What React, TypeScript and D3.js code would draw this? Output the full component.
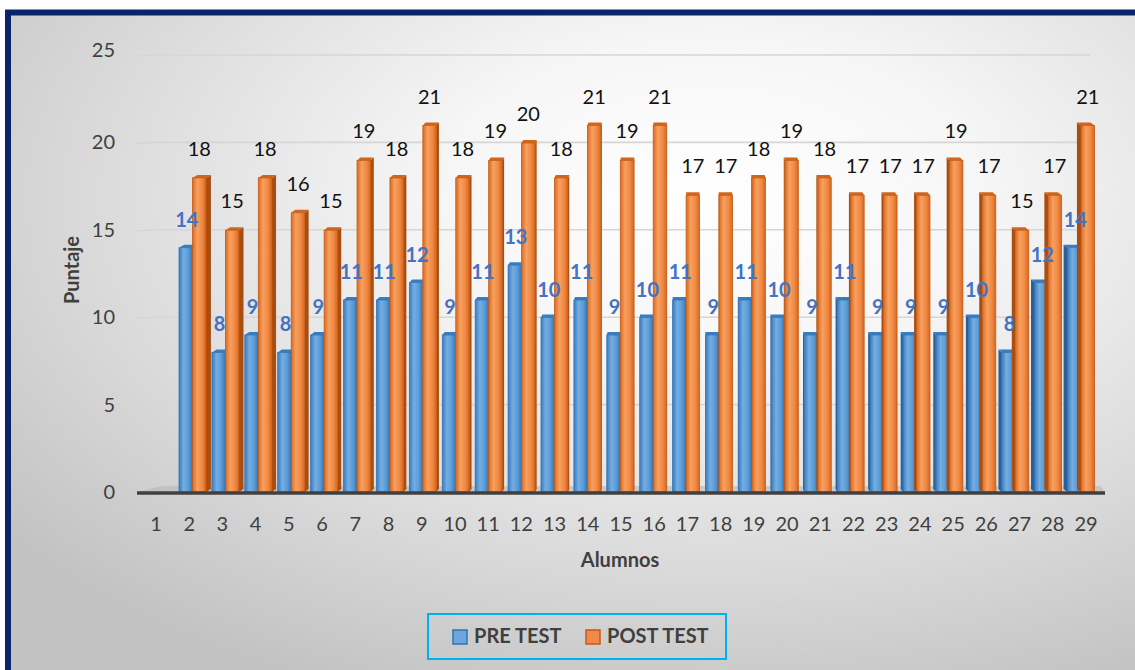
import * as d3 from 'd3';

const W = 1135;
const H = 670;

const categories = d3.range(1, 30);
// category 1 has no scores in the original chart
const preTest: (number | null)[] = [null, 14, 8, 9, 8, 9, 11, 11, 12, 9, 11, 13, 10, 11, 9, 10, 11, 9, 11, 10, 9, 11, 9, 9, 9, 10, 8, 12, 14];
const postTest: (number | null)[] = [null, 18, 15, 18, 16, 15, 19, 18, 21, 18, 19, 20, 18, 21, 19, 21, 17, 17, 18, 19, 18, 17, 17, 17, 19, 17, 15, 17, 21];
const yTicks = [0, 5, 10, 15, 20, 25];
const seriesNames = ['PRE TEST', 'POST TEST'];

const FONT = 'Lato, "Open Sans", sans-serif';
const TEXT = '#404040';
const BASE = 492;
const BAR_W = 13.5;

// axis labels sit on the back wall, bars on the (slightly wider) front plane
const xAxis = d3.scalePoint<number>().domain(categories).range([156, 1086]);
const xBar = d3.scalePoint<number>().domain(categories).range([159.6, 1081]);
const yWall = d3.scaleLinear().domain([0, 25]).range([BASE, 55]);
const yBar = d3.scaleLinear().domain([0, 25]).range([BASE, BASE - 25 * 17.45]);

const sideOf = (x: number) => (686 - x) * 0.0101;

type BarStyle = { grad: string; side: string; cap: string; stroke: string };
const blueStyle: BarStyle = { grad: 'url(#gBlue)', side: '#2b5f95', cap: '#3a7cc0', stroke: '#2e75b6' };
const orangeStyle: BarStyle = { grad: 'url(#gOrange)', side: '#a94d10', cap: '#d0651c', stroke: '#c55a11' };

function Bar3D({ x0, value, style }: { x0: number; value: number; style: BarStyle }) {
  const x1 = x0 + BAR_W;
  const y = yBar(value);
  const s = sideOf(x0 + BAR_W / 2);
  const d = 3;
  const edge = s >= 0 ? x1 : x0;
  return (
    <g>
      <path
        d={`M${edge},${y}L${edge + s},${y - d}L${edge + s},${BASE - d}L${edge},${BASE}Z`}
        fill={style.side}
      />
      <path d={`M${x0},${y}L${x0 + s},${y - d}L${x1 + s},${y - d}L${x1},${y}Z`} fill={style.cap} />
      <rect x={x0} y={y} width={BAR_W} height={BASE - y} fill={style.grad} stroke={style.stroke} strokeWidth={0.8} />
    </g>
  );
}

export default function App() {
  return (
    <svg
      width={W}
      height={H}
      style={{ position: 'absolute', left: 0, top: 0, display: 'block' }}
      fontFamily={FONT}
    >
      <defs>
        <radialGradient id="bg" cx="62%" cy="28%" r="80%">
          <stop offset="0%" stopColor="#ffffff" />
          <stop offset="30%" stopColor="#f6f6f6" />
          <stop offset="70%" stopColor="#d9d9d9" />
          <stop offset="100%" stopColor="#c2c2c2" />
        </radialGradient>
        <linearGradient id="gBlue" x1="0" x2="1" y1="0" y2="0">
          <stop offset="0%" stopColor="#3b7bbf" />
          <stop offset="35%" stopColor="#74aee2" />
          <stop offset="70%" stopColor="#5b9bd5" />
          <stop offset="100%" stopColor="#3574b4" />
        </linearGradient>
        <linearGradient id="gOrange" x1="0" x2="1" y1="0" y2="0">
          <stop offset="0%" stopColor="#dc6a20" />
          <stop offset="35%" stopColor="#f7a060" />
          <stop offset="70%" stopColor="#f08a44" />
          <stop offset="100%" stopColor="#d86620" />
        </linearGradient>
      </defs>

      <rect x={0} y={0} width={W} height={H} fill="#ffffff" />
      <rect x={8} y={12.5} width={W} height={H} fill="url(#bg)" stroke="#0b2468" strokeWidth={6} />

      {/* gridlines on the back wall */}
      {yTicks.slice(1).map((t) => {
        const y = yWall(t);
        return (
          <path
            key={t}
            d={`M137,${y + 1}L155,${y}L1090,${y}`}
            fill="none"
            stroke="#d6d6d6"
            strokeWidth={1.6}
          />
        );
      })}
      {yTicks.map((t) => (
        <text
          key={t}
          x={115}
          y={yWall(t) - (t === 25 ? 5 : 0)}
          dy="0.35em"
          textAnchor="end"
          fontSize={20}
          fill={TEXT}
        >
          {t}
        </text>
      ))}

      {/* floor */}
      <path d={`M137,${BASE}L162,${BASE - 6}L1100,${BASE - 6}L1105,${BASE}Z`} fill="#b8b8b8" opacity={0.6} />

      {categories.map((c, i) => {
        const pre = preTest[i];
        const post = postTest[i];
        const cx = xBar(c)!;
        return (
          <g key={c}>
            {pre != null && <Bar3D x0={cx - BAR_W} value={pre} style={blueStyle} />}
            {post != null && <Bar3D x0={cx} value={post} style={orangeStyle} />}
          </g>
        );
      })}

      <line x1={137} x2={1105} y1={BASE + 1} y2={BASE + 1} stroke="#404040" strokeWidth={3.5} />

      {/* data labels */}
      {categories.map((c, i) => {
        const pre = preTest[i];
        const post = postTest[i];
        const cx = xBar(c)!;
        const bx = cx - BAR_W / 2 + 1;
        const ox = cx + BAR_W / 2;
        return (
          <g key={c} fontSize={20}>
            {pre != null && (
              <text x={bx} y={yBar(pre) - 21} textAnchor="middle" fontWeight="bold" fill="#4472c4">
                {pre}
              </text>
            )}
            {post != null && (
              <text x={ox} y={yBar(post) - 22} textAnchor="middle" fill="#111111">
                {post}
              </text>
            )}
          </g>
        );
      })}

      {categories.map((c) => (
        <text key={c} x={xAxis(c)} y={524} dy="0.35em" textAnchor="middle" fontSize={20} fill={TEXT}>
          {c}
        </text>
      ))}

      <text x={620} y={560} dy="0.35em" textAnchor="middle" fontSize={20} fontWeight="bold" fill={TEXT}>
        Alumnos
      </text>
      <text
        transform="translate(72,270) rotate(-90)"
        dy="0.35em"
        textAnchor="middle"
        fontSize={20}
        fontWeight="bold"
        fill={TEXT}
      >
        Puntaje
      </text>

      {/* legend */}
      <rect x={428} y={614} width={298} height={45} fill="none" stroke="#00b0f0" strokeWidth={2} />
      {seriesNames.map((name, i) => {
        const lx = i === 0 ? 453 : 586;
        return (
          <g key={name}>
            <rect
              x={lx}
              y={630}
              width={14}
              height={14}
              fill={i === 0 ? '#6fa5dc' : '#f08a4b'}
              stroke={i === 0 ? '#2e75b6' : '#c55a11'}
              strokeWidth={1.5}
            />
            <text x={lx + 21} y={643} fontSize={20} fontWeight="bold" fill={TEXT}>
              {name}
            </text>
          </g>
        );
      })}
    </svg>
  );
}
